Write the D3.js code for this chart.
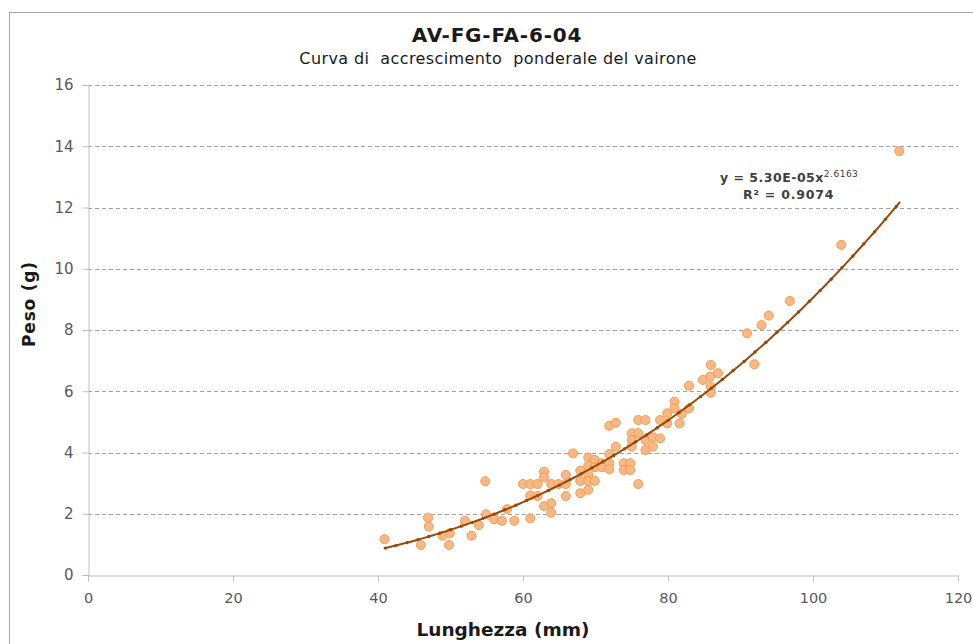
<!DOCTYPE html>
<html>
<head>
<meta charset="utf-8">
<script src="https://cdn.jsdelivr.net/npm/d3@7"></script>
<style>
  html, body { margin: 0; padding: 0; background: #ffffff; }
  svg { display: block; }
  text { font-family: "DejaVu Sans", Verdana, sans-serif; }
</style>
</head>
<body>
<svg id="chart" width="973" height="644"></svg>
<script>
// ---- Data ----
const lunghezza = [
  40.9, 46.9, 47.0, 45.9, 48.9, 49.9, 49.8, 52.0, 52.9, 53.9,
  54.8, 54.9, 56.0, 57.1, 57.8, 58.8, 61.0, 61.0, 60.0, 61.0,
  62.0, 62.0, 62.9, 62.9, 62.9, 63.9, 63.9, 63.9, 64.9, 65.9,
  65.9, 65.9, 66.9, 67.9, 67.9, 67.9, 69.0, 69.0, 69.0, 69.0,
  69.0, 69.9, 69.9, 69.9, 70.9, 70.9, 71.9, 71.9, 71.9, 72.8,
  71.9, 72.8, 73.9, 73.9, 74.8, 74.8, 75.9, 75.0, 75.9, 75.0,
  75.0, 75.9, 76.9, 76.9, 76.9, 77.9, 77.9, 78.9, 78.9, 79.9,
  79.9, 80.9, 80.9, 81.6, 81.9, 82.9, 82.9, 84.8, 85.8, 85.9,
  86.9, 85.9, 85.9, 91.9, 90.9, 92.9, 93.9, 96.8, 103.9, 111.9
];
const peso = [
  1.17, 1.87, 1.58, 0.98, 1.28, 1.36, 0.98, 1.77, 1.28, 1.63,
  3.06, 1.98, 1.82, 1.77, 2.15, 1.77, 1.85, 2.60, 2.97, 2.97,
  2.97, 2.58, 3.37, 3.19, 2.25, 2.34, 2.03, 2.97, 2.97, 3.27,
  2.97, 2.58, 3.97, 3.41, 3.07, 2.67, 3.84, 3.57, 3.27, 3.07,
  2.78, 3.76, 3.52, 3.07, 3.65, 3.52, 3.95, 3.65, 3.45, 4.19,
  4.87, 4.97, 3.65, 3.43, 3.65, 3.43, 2.97, 4.63, 4.63, 4.41,
  4.19, 5.06, 5.06, 4.41, 4.08, 4.50, 4.19, 4.46, 5.06, 5.28,
  4.95, 5.66, 5.44, 4.95, 5.26, 5.44, 6.18, 6.37, 6.48, 6.86,
  6.59, 6.15, 5.95, 6.88, 7.89, 8.16, 8.47, 8.95, 10.78, 13.84
];
const xTicks = [0, 20, 40, 60, 80, 100, 120];
const yTicks = [0, 2, 4, 6, 8, 10, 12, 14, 16];
// Power trendline shown on the chart: y = a * x^b
const trendCoefA = 5.30e-5;
const trendExpB = 2.6163;
const trendRange = [41, 112];
const titleText = "AV-FG-FA-6-04";
const subtitleText = "Curva di  accrescimento  ponderale del vairone";
const xTitle = "Lunghezza (mm)";
const yTitle = "Peso (g)";
const eqMain = "y = 5.30E-05x";
const eqExp = "2.6163";
const r2Text = "R\u00B2 = 0.9074";

// ---- Layout ----
const svg = d3.select("#chart");
const plot = { left: 88, right: 958, top: 85, bottom: 575 };

const x = d3.scaleLinear().domain([0, 120]).range([plot.left, plot.right]);
const y = d3.scaleLinear().domain([0, 16]).range([plot.bottom, plot.top]);

// outer chart border
svg.append("rect")
  .attr("x", 9.5).attr("y", 12.5)
  .attr("width", 980).attr("height", 660)
  .attr("fill", "none").attr("stroke", "#a6a6a6").attr("stroke-width", 1);

// gridlines
svg.append("g").selectAll("line")
  .data(yTicks.filter(d => d > 0))
  .join("line")
  .attr("x1", plot.left).attr("x2", plot.right)
  .attr("y1", d => Math.round(y(d)) + 0.5).attr("y2", d => Math.round(y(d)) + 0.5)
  .attr("stroke", "#a0a0a0").attr("stroke-width", 1)
  .attr("stroke-dasharray", "4,3");

// axes
const yAxis = d3.axisLeft(y).tickValues(yTicks).tickSize(6).tickPadding(9);
const gy = svg.append("g").attr("transform", `translate(${plot.left + 0.5},0)`).call(yAxis);
gy.select(".domain").attr("stroke", "#bfbfbf");
gy.selectAll(".tick line").attr("stroke", "#bfbfbf");
gy.selectAll(".tick text")
  .attr("fill", "#595959")
  .style("font-family", "'DejaVu Sans', sans-serif")
  .style("font-size", "15px");

const xAxis = d3.axisBottom(x).tickValues(xTicks).tickSize(6).tickPadding(11);
const gx = svg.append("g").attr("transform", `translate(0,${plot.bottom + 0.5})`).call(xAxis);
gx.select(".domain").attr("stroke", "#bfbfbf");
gx.selectAll(".tick line").attr("stroke", "#bfbfbf");
gx.selectAll(".tick text")
  .attr("fill", "#595959")
  .style("font-family", "'DejaVu Sans', sans-serif")
  .style("font-size", "14.5px");

// data points
svg.append("g").selectAll("circle")
  .data(d3.range(lunghezza.length))
  .join("circle")
  .attr("cx", i => x(lunghezza[i]))
  .attr("cy", i => y(peso[i]))
  .attr("r", 4.5)
  .attr("fill", "#fab984")
  .attr("stroke", "#f39a52")
  .attr("stroke-width", 1);

// trendline
const trendX = d3.range(trendRange[0], trendRange[1] + 0.001, 0.5);
const trendPts = trendX.map(v => [v, trendCoefA * Math.pow(v, trendExpB)]);
const line = d3.line().x(d => x(d[0])).y(d => y(d[1])).curve(d3.curveLinear);
svg.append("path")
  .datum(trendPts)
  .attr("d", line)
  .attr("fill", "none")
  .attr("stroke", "#984807")
  .attr("stroke-width", 2);
// beaded texture seen on the trendline
svg.append("g").selectAll("circle")
  .data(trendPts.filter((d, i) => i % 3 === 0))
  .join("circle")
  .attr("cx", d => x(d[0])).attr("cy", d => y(d[1]))
  .attr("r", 1.7)
  .attr("fill", "#984807");

// titles
svg.append("text")
  .attr("x", 497).attr("y", 42)
  .attr("text-anchor", "middle")
  .style("font-size", "20px").style("font-weight", "bold")
  .style("letter-spacing", "0.8px")
  .attr("fill", "#1a1a1a")
  .text(titleText);

svg.append("text")
  .attr("x", 498).attr("y", 64)
  .attr("text-anchor", "middle")
  .style("font-size", "16px")
  .style("letter-spacing", "0.4px")
  .style("white-space", "pre")
  .attr("fill", "#1a1a1a")
  .text(subtitleText);

svg.append("text")
  .attr("x", 503).attr("y", 636)
  .attr("text-anchor", "middle")
  .style("font-size", "18.5px").style("font-weight", "bold")
  .attr("fill", "#1a1a1a")
  .text(xTitle);

svg.append("text")
  .attr("transform", "translate(35,304) rotate(-90)")
  .attr("text-anchor", "middle")
  .style("font-size", "17px").style("font-weight", "bold")
  .style("letter-spacing", "0.8px")
  .attr("fill", "#1a1a1a")
  .text(yTitle);

// trendline equation
const eq = svg.append("text")
  .attr("x", 720).attr("y", 182)
  .style("font-size", "12.5px").style("font-weight", "bold")
  .style("letter-spacing", "0.5px")
  .attr("fill", "#404040");
eq.append("tspan").text(eqMain);
eq.append("tspan").attr("dy", -5).style("font-size", "9px").style("font-weight", "normal").text(eqExp);

svg.append("text")
  .attr("x", 743).attr("y", 199)
  .style("font-size", "12.5px").style("font-weight", "bold")
  .style("letter-spacing", "0.8px")
  .style("white-space", "pre")
  .attr("fill", "#404040")
  .text(r2Text);
</script>
</body>
</html>
